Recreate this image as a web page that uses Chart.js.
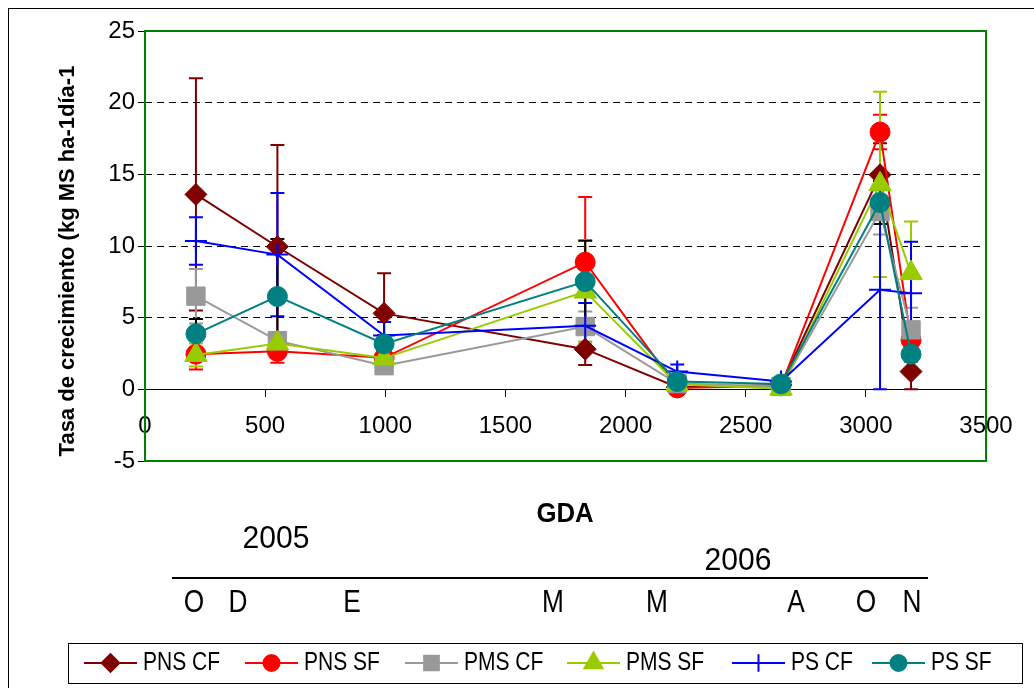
<!DOCTYPE html>
<html>
<head>
<meta charset="utf-8">
<script src="https://cdn.jsdelivr.net/npm/chart.js@4.4.0/dist/chart.umd.min.js"></script>
<style>
  html, body { margin: 0; padding: 0; background: #fff; overflow: hidden; }
  #wrap { width: 1034px; height: 688px; position: relative; }
</style>
</head>
<body>
<div id="wrap"><canvas id="c" width="1034" height="688"></canvas></div>
<script>
// Grados-día acumulados (GDA) at each sampling date
const gda = [212, 551, 995, 1832, 2215, 2647, 3059, 3188];

const seriesNames = ['PNS CF', 'PNS SF', 'PMS CF', 'PMS SF', 'PS CF', 'PS SF'];

// Tasa de crecimiento (kg MS ha-1 día-1) and its error for each series
const pnsCF    = [13.6, 9.95, 5.3, 2.8, 0.15, 0.3, 14.97, 1.24];
const pnsCFErr = [8.1, 7.1, 2.8, 1.1, 0.0, 0.2, 2.2, 1.24];
const pnsSF    = [2.45, 2.65, 2.2, 8.87, 0.1, 0.25, 17.95, 3.45];
const pnsSFErr = [1.07, 0.8, 0.3, 4.54, 0.0, 0.0, 1.2, 0.3];
const pmsCF    = [6.5, 3.4, 1.65, 4.38, 0.4, 0.2, 12.4, 4.15];
const pmsCFErr = [1.9, 0.5, 0.3, 1.05, 0.2, 0.1, 1.6, 1.55];
const pmsSF    = [2.4, 3.2, 2.18, 6.82, 0.35, 0.05, 14.3, 8.11];
const pmsSFErr = [0.8, 0.6, 0.3, 3.6, 0.1, 0.1, 6.47, 3.6];
const psCF     = [10.35, 9.4, 3.75, 4.43, 1.24, 0.55, 6.95, 6.7];
const psCFErr  = [1.65, 4.3, 0.95, 1.6, 0.5, 0.1, 6.95, 3.6];
const psSF     = [3.87, 6.48, 3.17, 7.52, 0.54, 0.38, 13.04, 2.45];
const psSFErr  = [1.03, 4.0, 0.6, 2.85, 0.2, 0.1, 1.5, 0.5];

const allValues = [pnsCF, pnsSF, pmsCF, pmsSF, psCF, psSF];
const allErrors = [pnsCFErr, pnsSFErr, pmsCFErr, pmsSFErr, psCFErr, psSFErr];

// Axis ranges and tick steps
const xMin = 0, xMax = 3500, xStep = 500;
const yMin = -5, yMax = 25, yStep = 5;

// Calendar labels under the GDA axis
const monthLabels = ['O', 'D', 'E', 'M', 'M', 'A', 'O', 'N'];
const yearLabels = ['2005', '2006'];

// Styling per series
const styles = [
  { color: '#800000', err: '#800000', point: 'rectRot',  r: 11 },
  { color: '#FF0000', err: '#FF0000', point: 'circle',   r: 10 },
  { color: '#999999', err: '#999999', point: 'rect',     r: 13 },
  { color: '#99CC00', err: '#99CC00', point: 'triangle', r: 13 },
  { color: '#0000FF', err: '#0000FF', point: 'cross',    r: 11 },
  { color: '#008080', err: '#000000', point: 'circle',   r: 10 }
];

const datasets = allValues.map((vals, i) => ({
  label: seriesNames[i],
  data: gda.map((x, j) => ({ x: x, y: vals[j] })),
  errors: allErrors[i],
  showLine: true,
  tension: 0,
  borderColor: styles[i].color,
  backgroundColor: styles[i].color,
  borderWidth: 2,
  pointStyle: styles[i].point,
  pointRadius: styles[i].r,
  pointHoverRadius: styles[i].r,
  pointBackgroundColor: styles[i].color,
  pointBorderColor: styles[i].color,
  pointBorderWidth: styles[i].point === 'cross' ? 2 : 1,
  order: allValues.length - i
}));

const FONT = '"Liberation Sans", Arial, sans-serif';

// Vertical error bars with caps, drawn through the chart scales
const errorBars = {
  id: 'errorBars',
  beforeDatasetsDraw(chart) {
    const ctx = chart.ctx;
    const xs = chart.scales.x, ys = chart.scales.y;
    const cap = 7;
    ctx.save();
    chart.data.datasets.forEach((ds, i) => {
      ctx.strokeStyle = styles[i].err;
      ctx.lineWidth = 2;
      ds.data.forEach((p, j) => {
        const e = ds.errors[j];
        if (!e) return;
        const px = xs.getPixelForValue(p.x);
        const top = ys.getPixelForValue(p.y + e);
        const bot = ys.getPixelForValue(p.y - e);
        ctx.beginPath();
        ctx.moveTo(px, top); ctx.lineTo(px, bot);
        ctx.moveTo(px - cap, top); ctx.lineTo(px + cap, top);
        ctx.moveTo(px - cap, bot); ctx.lineTo(px + cap, bot);
        ctx.stroke();
      });
    });
    ctx.restore();
  }
};

function drawText(ctx, text, x, y, font, sx, align) {
  ctx.save();
  ctx.translate(x, y);
  ctx.scale(sx || 1, 1);
  ctx.font = font;
  ctx.fillStyle = '#000';
  ctx.textAlign = align || 'center';
  ctx.textBaseline = 'middle';
  ctx.fillText(text, 0, 0);
  ctx.restore();
}

// Plot frame, axis titles, calendar strip and legend
const decorations = {
  id: 'decorations',
  afterDraw(chart) {
    const ctx = chart.ctx;
    const a = chart.chartArea;
    ctx.save();

    // outer border
    ctx.strokeStyle = '#000';
    ctx.lineWidth = 1;
    ctx.strokeRect(8.5, 8.5, 1200, 1200);

    // green plot frame
    ctx.strokeStyle = '#008000';
    ctx.lineWidth = 2;
    ctx.strokeRect(a.left, a.top, a.right - a.left, a.bottom - a.top);

    // y title
    ctx.save();
    ctx.translate(68, 261);
    ctx.rotate(-Math.PI / 2);
    ctx.font = 'bold 22px ' + FONT;
    ctx.fillStyle = '#000';
    ctx.textAlign = 'center';
    ctx.textBaseline = 'middle';
    ctx.fillText('Tasa de crecimiento (kg MS ha-1día-1', 0, 0);
    ctx.restore();

    // x title
    drawText(ctx, 'GDA', 565, 514, 'bold 28px ' + FONT, 0.92);

    // years and months
    drawText(ctx, yearLabels[0], 276, 539, '31px ' + FONT, 0.97);
    drawText(ctx, yearLabels[1], 738, 561, '31px ' + FONT, 0.97);
    ctx.strokeStyle = '#000';
    ctx.lineWidth = 2;
    ctx.beginPath();
    ctx.moveTo(172, 578); ctx.lineTo(928, 578);
    ctx.stroke();
    const monthX = [194, 238, 352, 553, 657, 796, 866, 912];
    monthLabels.forEach((m, i) => drawText(ctx, m, monthX[i], 603, '32px ' + FONT, 0.82));

    // legend
    ctx.strokeStyle = '#000';
    ctx.lineWidth = 1;
    ctx.strokeRect(68.5, 643.5, 954, 40);
    const legX = [84, 245, 405, 567, 732, 872];
    const ly = 663;
    seriesNames.forEach((name, i) => {
      const x0 = legX[i], x1 = x0 + 53;
      ctx.strokeStyle = styles[i].color;
      ctx.fillStyle = styles[i].color;
      ctx.lineWidth = 2;
      ctx.beginPath();
      ctx.moveTo(x0, ly); ctx.lineTo(x1, ly);
      ctx.stroke();
      Chart.helpers.drawPoint(ctx, {
        pointStyle: styles[i].point,
        radius: styles[i].r * 0.8,
        rotation: 0,
        borderWidth: styles[i].point === 'cross' ? 2 : 1
      }, (x0 + x1) / 2, ly);
      drawText(ctx, name, x1 + 6, ly, '25px ' + FONT, 0.84, 'left');
    });

    ctx.restore();
  }
};

new Chart(document.getElementById('c'), {
  type: 'scatter',
  data: { datasets: datasets },
  options: {
    responsive: false,
    animation: false,
    devicePixelRatio: 1,
    layout: { padding: { left: 0, top: 31, right: 48, bottom: 227 } },
    plugins: { legend: { display: false }, tooltip: { enabled: false } },
    scales: {
      x: {
        type: 'linear',
        min: xMin, max: xMax,
        position: { y: 0 },
        border: { display: true, color: '#000', width: 1 },
        grid: { drawOnChartArea: false, drawTicks: true, tickLength: 7, tickColor: '#000', tickWidth: 1 },
        ticks: { stepSize: xStep, autoSkip: false, maxRotation: 0, padding: 16,
                 color: '#000', font: { family: FONT, size: 24 },
                 callback: (v) => String(v) }
      },
      y: {
        type: 'linear',
        min: yMin, max: yMax,
        afterFit(scale) { scale.width = 145; },
        border: { display: false, dash: [7, 5] },
        grid: {
          drawOnChartArea: true, drawTicks: true, tickLength: 7,
          tickColor: '#000', tickWidth: 1, tickBorderDash: [],
          lineWidth: 1,
          color: (c) => (c.tick && (c.tick.value === 0 || c.tick.value === yMin || c.tick.value === yMax)) ? 'rgba(0,0,0,0)' : '#000'
        },
        ticks: { stepSize: yStep, padding: 3, color: '#000', font: { family: FONT, size: 24 },
                 callback: (v) => String(v) }
      }
    }
  },
  plugins: [errorBars, decorations]
});
</script>
</body>
</html>
